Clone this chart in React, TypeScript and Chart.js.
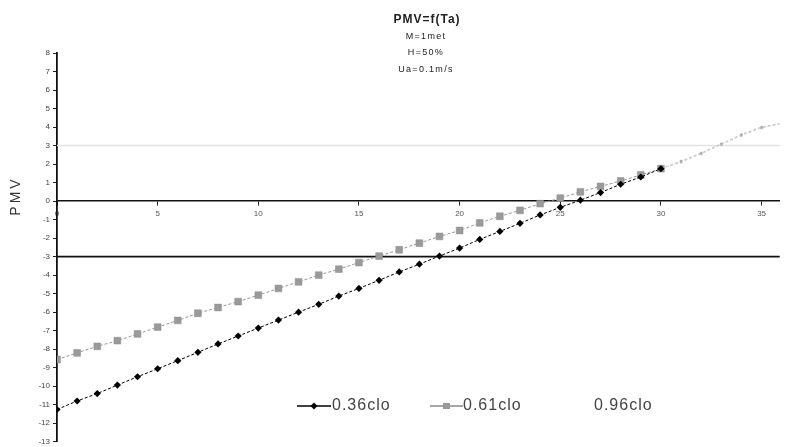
import { useEffect, useRef } from "react";
import { Chart, registerables } from "chart.js";

Chart.register(...registerables);

// ---- data ----
const temperatures = [
  0, 1, 2, 3, 4, 5, 6, 7, 8, 9, 10, 11, 12, 13, 14, 15, 16, 17, 18,
  19, 20, 21, 22, 23, 24, 25, 26, 27, 28, 29, 30, 31, 32, 33, 34, 35, 36,
];
const pmv036clo = [
  -11.26, -10.8, -10.4, -9.94, -9.49, -9.06, -8.62, -8.17, -7.72, -7.29,
  -6.86, -6.43, -6.0, -5.58, -5.13, -4.72, -4.28, -3.83, -3.41, -2.97,
  -2.54, -2.07, -1.64, -1.2, -0.75, -0.34, 0.05, 0.46, 0.91, 1.3, 1.75,
  2.16, 2.6, 3.1, 3.6, 4.0, 4.2,
];
const pmv061clo = [
  -8.56, -8.2, -7.85, -7.54, -7.18, -6.81, -6.45, -6.06, -5.75, -5.43,
  -5.08, -4.72, -4.36, -4.0, -3.68, -3.32, -2.97, -2.63, -2.27, -1.91,
  -1.59, -1.18, -0.82, -0.5, -0.14, 0.16, 0.5, 0.79, 1.09, 1.41, 1.75,
  2.1, 2.55, 3.05, 3.55, 3.95, 4.2,
];
const seriesLabels = ["0.36clo", "0.61clo", "0.96clo"];
const limitLines = [-3];
const faintLines = [3];
const fadeFrom = 30;
const xMin = 0;
const xMax = 35.9;
const yMin = -13;
const yMax = 8;
const xStep = 5;
const yStep = 1;
const titleText = "PMV=f(Ta)";
const subtitleLines = ["M=1met", "H=50%", "Ua=0.1m/s"];
const yAxisTitle = "PMV";

const FONT = "'Liberation Sans', Arial, sans-serif";

function toPoints(values: number[]) {
  return temperatures.map((t, i) => ({ x: t, y: values[i] }));
}

function hLine(y: number) {
  return [
    { x: xMin, y },
    { x: 40, y },
  ];
}

const textPlugin = {
  id: "pmvText",
  afterDraw(chart: any) {
    const ctx = chart.ctx as CanvasRenderingContext2D;
    ctx.save();
    ctx.fillStyle = "#222";
    ctx.textAlign = "center";
    ctx.textBaseline = "middle";
    (ctx as any).letterSpacing = "1px";
    ctx.font = `bold 12px ${FONT}`;
    ctx.fillText(titleText, 427, 20);
    (ctx as any).letterSpacing = "1.3px";
    ctx.font = `9px ${FONT}`;
    const ys = [37, 53, 70];
    subtitleLines.forEach((s, i) => ctx.fillText(s, 426, ys[i]));

    // y axis title
    ctx.save();
    ctx.translate(16, 196);
    ctx.rotate(-Math.PI / 2);
    (ctx as any).letterSpacing = "3px";
    ctx.font = `14px ${FONT}`;
    ctx.fillStyle = "#333";
    ctx.fillText(yAxisTitle, 0, 0);
    ctx.restore();

    // legend
    const ly = 406;
    ctx.textAlign = "left";
    (ctx as any).letterSpacing = "1px";
    ctx.font = `16px ${FONT}`;
    // 0.36clo
    ctx.strokeStyle = "#000";
    ctx.lineWidth = 1.5;
    ctx.setLineDash([]);
    ctx.beginPath();
    ctx.moveTo(297, ly);
    ctx.lineTo(331, ly);
    ctx.stroke();
    ctx.fillStyle = "#000";
    ctx.beginPath();
    ctx.moveTo(314, ly - 3.5);
    ctx.lineTo(317.5, ly);
    ctx.lineTo(314, ly + 3.5);
    ctx.lineTo(310.5, ly);
    ctx.closePath();
    ctx.fill();
    ctx.fillStyle = "#444";
    ctx.fillText(seriesLabels[0], 332, ly);
    // 0.61clo
    ctx.strokeStyle = "#888";
    ctx.beginPath();
    ctx.moveTo(430, ly);
    ctx.lineTo(463, ly);
    ctx.stroke();
    ctx.fillStyle = "#999";
    ctx.fillRect(443, ly - 3, 7, 6);
    ctx.fillStyle = "#444";
    ctx.fillText(seriesLabels[1], 463, ly);
    // 0.96clo
    ctx.fillText(seriesLabels[2], 594, ly);
    ctx.restore();
  },
};

export default function App() {
  const ref = useRef<HTMLCanvasElement | null>(null);

  useEffect(() => {
    if (!ref.current) return;
    const fadedColor = (base: string, faint: string) =>
      temperatures.map((t) => (t > fadeFrom ? faint : base));
    const radii = (r: number) =>
      temperatures.map((t) => (t > fadeFrom ? 1.5 : r));

    const chart = new Chart(ref.current, {
      type: "line",
      data: {
        datasets: [
          {
            label: seriesLabels[0],
            data: toPoints(pmv036clo),
            borderColor: "#000",
            borderWidth: 1,
            borderDash: [3, 2],
            pointStyle: "rectRot",
            pointRadius: radii(3.6),
            pointBackgroundColor: fadedColor("#000", "#aaa"),
            pointBorderColor: fadedColor("#000", "#aaa"),
            pointBorderWidth: 0,
            segment: {
              borderColor: (c: any) => (c.p0.parsed.x >= fadeFrom ? "#c4c4c4" : "#000"),
            },
            order: 1,
          },
          {
            label: seriesLabels[1],
            data: toPoints(pmv061clo),
            borderColor: "#999",
            borderWidth: 1,
            borderDash: [3, 2],
            pointStyle: "rect",
            pointRadius: radii(4.8),
            pointBackgroundColor: fadedColor("#9a9a9a", "#bbb"),
            pointBorderColor: fadedColor("#8a8a8a", "#bbb"),
            pointBorderWidth: 0.5,
            segment: {
              borderColor: (c: any) => (c.p0.parsed.x >= fadeFrom ? "#d0d0d0" : "#999"),
            },
            order: 2,
          },
          ...limitLines.map((y) => ({
            label: "limit",
            data: hLine(y),
            borderColor: "#111",
            borderWidth: 1.6,
            pointRadius: 0,
            order: 5,
          })),
          ...faintLines.map((y) => ({
            label: "faint",
            data: hLine(y),
            borderColor: "#e2e2e2",
            borderWidth: 1.6,
            pointRadius: 0,
            order: 6,
          })),
        ],
      },
      options: {
        animation: false,
        responsive: true,
        maintainAspectRatio: false,
        layout: { padding: { left: 0, right: 0, top: 53, bottom: -3 } },
        plugins: {
          legend: { display: false },
          tooltip: { enabled: false },
          title: { display: false },
        },
        scales: {
          x: {
            type: "linear",
            position: { y: 0 } as any,
            min: xMin,
            max: xMax,
            afterFit: (s: any) => {
              s.height = 0;
              s.paddingLeft = 0;
              s.paddingRight = 0;
            },
            ticks: {
              stepSize: xStep,
              includeBounds: false,
              color: "#555",
              font: { family: FONT, size: 8 },
              padding: 4,
              maxRotation: 0,
            },
            grid: {
              drawOnChartArea: false,
              tickLength: 4,
              color: "#222",
            },
            border: { color: "#111", width: 1.6 },
          },
          y: {
            type: "linear",
            position: "left",
            min: yMin,
            max: yMax,
            afterFit: (s: any) => {
              s.width = 57;
              s.paddingTop = 0;
              s.paddingBottom = 0;
            },
            ticks: {
              stepSize: yStep,
              color: "#444",
              font: { family: FONT, size: 8 },
              padding: 3,
            },
            grid: {
              drawOnChartArea: false,
              tickLength: 4,
              color: "#222",
            },
            border: { color: "#111", width: 1.8 },
          },
        },
      },
      plugins: [textPlugin],
    });
    return () => chart.destroy();
  }, []);

  return (
    <div style={{ position: "fixed", left: 0, top: 0, width: 785, height: 447, background: "#fff" }}>
      <canvas ref={ref} />
    </div>
  );
}
